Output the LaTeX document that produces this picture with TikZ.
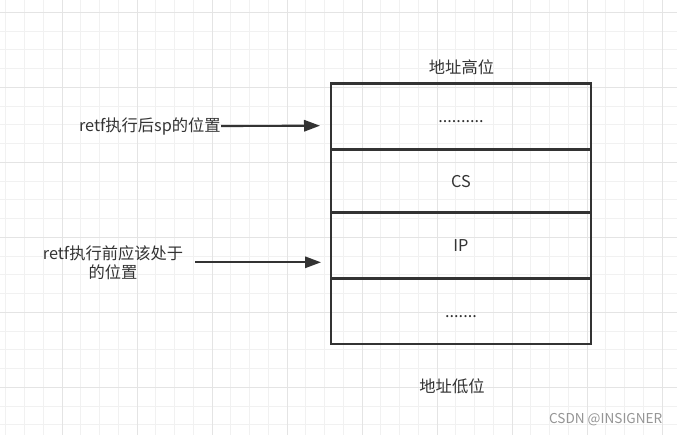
\documentclass[tikz,border=0pt]{standalone}
\usepackage{fontspec}
\setmainfont{Noto Sans CJK SC}
\usetikzlibrary{arrows.meta}
\definecolor{ink}{HTML}{333333}
\definecolor{gridminor}{HTML}{F1F1F1}
\definecolor{gridmajor}{HTML}{E4E4E4}
\definecolor{wmgray}{HTML}{959595}
\tikzset{
  cell/.style={draw=ink, line width=1.8pt, minimum width=195pt, inner sep=0pt, text=ink,
    text height=12pt, text depth=2.2pt, font=\fontsize{12.2}{14.3}\selectfont},
  lbl/.style={inner sep=0pt, text=ink, font=\fontsize{12.2}{14.3}\selectfont},
  arr/.style={draw=ink, line width=1.6pt, -{Triangle[length=12pt,width=8.5pt]}},
}
\begin{document}
\begin{tikzpicture}[x=0.75pt,y=-0.75pt]
\fill[white] (0,0) rectangle (677,435);
\useasboundingbox (0,0) rectangle (677,435);
% grid
\foreach \i in {0,...,36} \draw[gridminor, line width=0.75pt] ({5.75+18.75*\i},0) -- ({5.75+18.75*\i},435);
\foreach \j in {0,...,22} \draw[gridminor, line width=0.75pt] (0,{12.3+18.75*\j}) -- (677,{12.3+18.75*\j});
\foreach \i in {0,...,8} \draw[gridmajor, line width=0.75pt] ({62+75*\i},0) -- ({62+75*\i},435);
\foreach \j in {0,...,5} \draw[gridmajor, line width=0.75pt] (0,{12.3+75*\j}) -- (677,{12.3+75*\j});
% stack cells
\node[cell, minimum height=49.5pt] (c1) at (461, 116.3) {..........};
\node[cell, minimum height=47.5pt] (c2) at (461, 180.7) {CS};
\node[cell, minimum height=49.5pt] (c3) at (461, 245.3) {IP};
\node[cell, minimum height=49.3pt] (c4) at (461, 311.2) {.......};
% labels
\node[lbl] (hi) at (461.5, 67) {地址高位};
\node[lbl] (lo) at (452, 386) {地址低位};
\node[lbl, anchor=east] (after) at (221, 126) {retf执行后sp的位置};
\node[lbl, align=center] (before) at (113, 262.5) {retf执行前应该处于\\的位置};
% arrows
\coordinate (a1) at (320, 125.7);
\coordinate (b0) at (195, 262.3);
\coordinate (a2) at (321, 262.3);
\draw[arr] (after.east) -- (a1);
\draw[arr] (b0) -- (a2);
% watermark
\node[inner sep=0pt, text=wmgray, font=\fontsize{10.2}{12}\selectfont] (wm) at (605.7, 420) {CSDN @INSIGNER};
\end{tikzpicture}
\end{document}
